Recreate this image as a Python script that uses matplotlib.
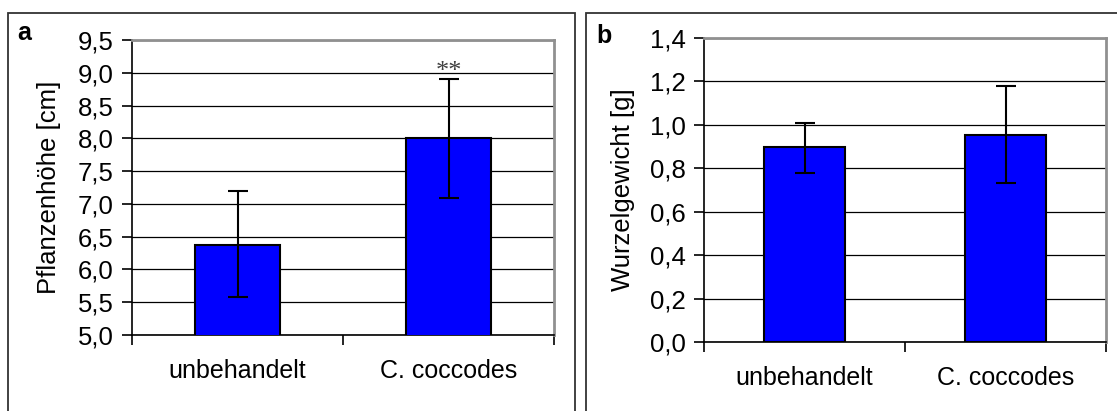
import matplotlib
matplotlib.use("Agg")
import matplotlib.pyplot as plt
from matplotlib.patches import Rectangle
from matplotlib.ticker import FuncFormatter, MultipleLocator

categories = ["unbehandelt", "C. coccodes"]
height_mean = [6.37, 8.00]
height_err_low = [5.58, 7.09]
height_err_high = [7.19, 8.91]
root_mean = [0.90, 0.955]
root_err_low = [0.78, 0.73]
root_err_high = [1.01, 1.18]

plt.rcParams['font.family'] = ['Liberation Sans', 'DejaVu Sans']

W, H = 1117, 411
fig = plt.figure(figsize=(W / 100, H / 100), dpi=100)

def px_axes(l, t, r, b):
    return [l / W, (H - b) / H, (r - l) / W, (b - t) / H]

comma = FuncFormatter(lambda v, p: f"{v:.1f}".replace('.', ','))

def style(ax, ylo, yhi, step, means, lo, hi, ylabel):
    x = list(range(len(categories)))
    ax.set_axisbelow(True)
    ax.bar(x, means, width=0.4, color='#0000FF', edgecolor='black', linewidth=1.5, zorder=3)
    yerr = [[m - l for m, l in zip(means, lo)], [h - m for m, h in zip(means, hi)]]
    ax.errorbar(x, means, yerr=yerr, fmt='none', ecolor='black', elinewidth=1.5,
                capsize=7, capthick=1.5, zorder=4)
    ax.set_xlim(-0.5, len(categories) - 0.5)
    ax.set_ylim(ylo, yhi)
    ax.yaxis.set_major_locator(MultipleLocator(step))
    ax.yaxis.set_major_formatter(comma)
    ax.set_xticks(x)
    ax.set_xticklabels(categories, fontsize=18)
    ax.set_xticks([i - 0.5 for i in range(len(categories) + 1)], minor=True)
    ax.tick_params(axis='x', which='major', length=0, pad=17)
    ax.tick_params(axis='x', which='minor', length=7, width=1.2, direction='out', color='black')
    ax.tick_params(axis='y', length=7, width=1.2, direction='out', labelsize=18.5, pad=6)
    ax.yaxis.grid(True, color='black', linewidth=0.9)
    for s in ['top', 'right']:
        ax.spines[s].set_color('#909090')
        ax.spines[s].set_linewidth(2)
    for s in ['left', 'bottom']:
        ax.spines[s].set_color('black')
        ax.spines[s].set_linewidth(1.2)
    ax.set_ylabel(ylabel, fontsize=18.5)

ax1 = fig.add_axes(px_axes(132, 40, 554, 335))
style(ax1, 5.0, 9.5, 0.5, height_mean, height_err_low, height_err_high, "Pflanzenhöhe [cm]")
ax1.yaxis.set_label_coords(-0.168, 0.5)
ax1.text(1, height_err_high[1] + 0.01, "**", ha='center', va='baseline', fontsize=19,
         color='#404040', family=['Liberation Serif', 'DejaVu Serif'])

ax2 = fig.add_axes(px_axes(704, 38, 1106, 342))
style(ax2, 0.0, 1.4, 0.2, root_mean, root_err_low, root_err_high, "Wurzelgewicht [g]")
ax2.yaxis.set_label_coords(-0.172, 0.5)

# panel frames
fig.add_artist(Rectangle((7.5 / W, -0.05), (575 - 7.5) / W, (H - 13) / H + 0.05,
                         transform=fig.transFigure, fill=False, edgecolor='#333333', linewidth=1.3))
fig.add_artist(Rectangle((585.5 / W, -0.05), 0.5, (H - 13) / H + 0.05,
                         transform=fig.transFigure, fill=False, edgecolor='#333333', linewidth=1.3))

fig.text(24 / W, (H - 33) / H, "a", fontsize=18, fontweight='bold', ha='center', va='center')
fig.text(604 / W, (H - 36) / H, "b", fontsize=18, fontweight='bold', ha='center', va='center')

fig.savefig("out.png", dpi=100)
